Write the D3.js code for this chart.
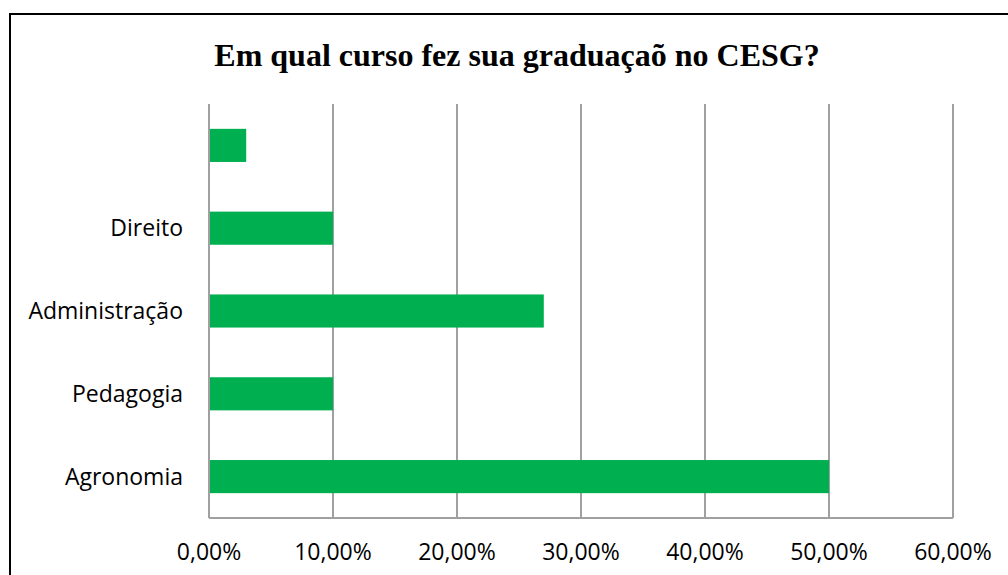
<!DOCTYPE html>
<html>
<head>
<meta charset="utf-8">
<script src="https://cdn.jsdelivr.net/npm/d3@7"></script>
<style>
  body { margin: 0; background: #fff; }
  svg { display: block; }
</style>
</head>
<body>
<div id="chart"></div>
<script>
// categories from top to bottom
const categories = ["", "Direito", "Administração", "Pedagogia", "Agronomia"];
const values = [0.03, 0.10, 0.27, 0.10, 0.50];
const tickValues = [0, 0.1, 0.2, 0.3, 0.4, 0.5, 0.6];
const title = "Em qual curso fez sua graduaçaõ no CESG?";

const width = 1008, height = 575;
const margin = { top: 104, right: 55, bottom: 57, left: 209 };

const svg = d3.select("#chart").append("svg")
    .attr("width", width)
    .attr("height", height);

// outer frame
svg.append("rect")
    .attr("x", 10).attr("y", 14)
    .attr("width", 1010).attr("height", 600)
    .attr("fill", "none")
    .attr("stroke", "#000")
    .attr("stroke-width", 2);

svg.append("text")
    .attr("x", 517)
    .attr("y", 66)
    .attr("text-anchor", "middle")
    .style("font-family", "'Liberation Serif', 'Times New Roman', serif")
    .style("font-weight", "bold")
    .style("font-size", "32px")
    .text(title);

const x = d3.scaleLinear()
    .domain([0, 0.6])
    .range([margin.left, width - margin.right]);

const y = d3.scaleBand()
    .domain(categories.map((c, i) => i))
    .range([margin.top, height - margin.bottom])
    .paddingInner(0.6)
    .paddingOuter(0.3);

// gridlines
svg.append("g")
    .selectAll("line")
    .data(tickValues)
    .join("line")
    .attr("x1", d => x(d)).attr("x2", d => x(d))
    .attr("y1", margin.top).attr("y2", height - margin.bottom)
    .attr("stroke", "#a0a0a0")
    .attr("stroke-width", 2);

// bottom axis line
svg.append("line")
    .attr("x1", x(0)).attr("x2", x(0.6))
    .attr("y1", height - margin.bottom).attr("y2", height - margin.bottom)
    .attr("stroke", "#a0a0a0")
    .attr("stroke-width", 2);

// bars
svg.append("g")
    .selectAll("rect")
    .data(values)
    .join("rect")
    .attr("x", x(0) + 1)
    .attr("y", (d, i) => y(i))
    .attr("width", d => x(d) - x(0) - 1)
    .attr("height", y.bandwidth())
    .attr("fill", "#00b050");

// category labels
svg.append("g")
    .selectAll("text")
    .data(categories)
    .join("text")
    .attr("x", x(0) - 26)
    .attr("y", (d, i) => y(i) + y.bandwidth() / 2)
    .attr("dy", "0.35em")
    .attr("text-anchor", "end")
    .style("font-family", "'Open Sans', 'Noto Sans', sans-serif")
    .style("font-size", "23px")
    .text(d => d);

// tick labels
const fmt = d => d3.format(".2f")(d * 100).replace(".", ",") + "%";
svg.append("g")
    .selectAll("text")
    .data(tickValues)
    .join("text")
    .attr("x", d => x(d))
    .attr("y", 560)
    .attr("text-anchor", "middle")
    .style("font-family", "'Open Sans', 'Noto Sans', sans-serif")
    .style("font-size", "23px")
    .text(fmt);
</script>
</body>
</html>
